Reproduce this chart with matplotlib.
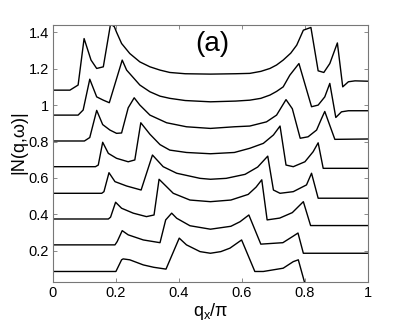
import matplotlib
matplotlib.use('Agg')
import matplotlib.pyplot as plt

plt.rcParams['font.family'] = ['Liberation Sans', 'DejaVu Sans']

# curves, bottom to top
curve1_x = [0, 0.2, 0.218, 0.223, 0.244, 0.287, 0.32, 0.359, 0.401, 0.424, 0.467, 0.5,
            0.533, 0.562, 0.599, 0.641, 0.668, 0.731, 0.763, 0.779, 0.8, 1.0]
curve1_y = [0.087, 0.087, 0.151, 0.156, 0.151, 0.123, 0.11, 0.100, 0.270, 0.233, 0.196, 0.187,
            0.196, 0.215, 0.260, 0.087, 0.087, 0.105, 0.141, 0.151, 0.02, 0.02]

curve2_x = [0, 0.197, 0.204, 0.22, 0.239, 0.287, 0.34, 0.358, 0.377, 0.393, 0.435, 0.5,
            0.565, 0.594, 0.622, 0.66, 0.73, 0.762, 0.778, 0.795, 1.0]
curve2_y = [0.233, 0.233, 0.251, 0.311, 0.288, 0.26, 0.245, 0.37, 0.407, 0.379, 0.338, 0.319,
            0.335, 0.36, 0.397, 0.237, 0.245, 0.28, 0.298, 0.187, 0.187]

curve3_x = [0, 0.176, 0.183, 0.199, 0.218, 0.255, 0.297, 0.321, 0.337, 0.361, 0.382, 0.435, 0.5,
            0.565, 0.62, 0.645, 0.663, 0.68, 0.72, 0.76, 0.795, 0.818, 1.0]
curve3_y = [0.375, 0.375, 0.385, 0.467, 0.434, 0.407, 0.388, 0.397, 0.593, 0.552, 0.516, 0.479, 0.47,
            0.479, 0.51, 0.55, 0.59, 0.37, 0.38, 0.41, 0.47, 0.339, 0.339]

curve4_x = [0, 0.155, 0.162, 0.178, 0.197, 0.234, 0.28, 0.316, 0.35, 0.393, 0.467, 0.5,
            0.55, 0.61, 0.65, 0.682, 0.70, 0.721, 0.763, 0.805, 0.821, 0.842, 1.0]
curve4_y = [0.516, 0.516, 0.525, 0.629, 0.58, 0.556, 0.534, 0.726, 0.662, 0.626, 0.598, 0.593,
            0.598, 0.62, 0.66, 0.72, 0.534, 0.516, 0.525, 0.562, 0.626, 0.489, 0.489]

curve5_x = [0, 0.135, 0.144, 0.158, 0.176, 0.202, 0.239, 0.26, 0.279, 0.308, 0.34, 0.371, 0.424, 0.5,
            0.576, 0.625, 0.668, 0.70, 0.721, 0.74, 0.763, 0.80, 0.826, 0.842, 0.858, 1.0]
curve5_y = [0.662, 0.662, 0.671, 0.796, 0.735, 0.708, 0.689, 0.699, 0.903, 0.84, 0.783, 0.753, 0.74, 0.733,
            0.74, 0.763, 0.79, 0.836, 0.885, 0.671, 0.662, 0.689, 0.744, 0.793, 0.653, 0.653]

curve6_x = [0, 0.10, 0.117, 0.139, 0.158, 0.181, 0.202, 0.218, 0.239, 0.258, 0.276, 0.308, 0.361, 0.424, 0.5,
            0.576, 0.625, 0.678, 0.71, 0.74, 0.76, 0.785, 0.81, 0.837, 0.853, 0.863, 0.895, 1.0]
curve6_y = [0.803, 0.803, 0.822, 0.971, 0.893, 0.863, 0.845, 0.847, 0.985, 1.04, 1.0, 0.945, 0.903, 0.881, 0.872,
            0.881, 0.885, 0.908, 0.945, 1.03, 0.98, 0.818, 0.826, 0.863, 0.927, 0.965, 0.812, 0.814]

curve7_x = [0, 0.080, 0.096, 0.117, 0.139, 0.160, 0.179, 0.220, 0.234, 0.276, 0.308, 0.34, 0.371, 0.42, 0.5,
            0.58, 0.625, 0.66, 0.689, 0.71, 0.731, 0.752, 0.781, 0.821, 0.842, 0.863, 0.879, 0.898, 0.916,
            0.938, 1.0]
curve7_y = [0.945, 0.945, 0.973, 1.142, 1.045, 1.027, 1.013, 1.247, 1.192, 1.11, 1.073, 1.049, 1.037, 1.025, 1.018,
            1.022, 1.027, 1.037, 1.055, 1.075, 1.10, 1.164, 1.228, 0.991, 1.0, 1.045, 1.119, 0.932, 0.963,
            0.969, 0.969]

curve8_x = [0, 0.054, 0.08, 0.099, 0.121, 0.139, 0.160, 0.183, 0.195, 0.202, 0.218, 0.244, 0.276, 0.308, 0.34,
            0.371, 0.42, 0.5, 0.58, 0.625, 0.66, 0.689, 0.71, 0.731, 0.755, 0.774, 0.795, 0.819, 0.842, 0.860,
            0.879, 0.903, 0.920, 0.938, 0.959, 1.0]
curve8_y = [1.082, 1.082, 1.11, 1.365, 1.247, 1.201, 1.21, 1.445, 1.43, 1.40, 1.338, 1.283, 1.237, 1.21, 1.192,
            1.179, 1.172, 1.17, 1.172, 1.174, 1.185, 1.201, 1.22, 1.247, 1.285, 1.329, 1.411, 1.426, 1.188, 1.179,
            1.228, 1.341, 1.10, 1.128, 1.133, 1.131]

curves = [(curve1_x, curve1_y), (curve2_x, curve2_y), (curve3_x, curve3_y), (curve4_x, curve4_y),
          (curve5_x, curve5_y), (curve6_x, curve6_y), (curve7_x, curve7_y), (curve8_x, curve8_y)]

xticks = [0, 0.2, 0.4, 0.6, 0.8, 1]
xticklabels = ['0', '0.2', '0.4', '0.6', '0.8', '1']
yticks = [0.2, 0.4, 0.6, 0.8, 1.0, 1.2, 1.4]
yticklabels = ['0.2', '0.4', '0.6', '0.8', '1', '1.2', '1.4']

fig = plt.figure(figsize=(4.07, 3.32), dpi=100)
ax = fig.add_axes([0.130, 0.151, 0.774, 0.774])

for cx, cy in curves:
    ax.plot(cx, cy, color='black', linewidth=1.0)

ax.set_xlim(0, 1)
ax.set_ylim(0.03, 1.44)
ax.set_xticks(xticks)
ax.set_xticklabels(xticklabels)
ax.set_yticks(yticks)
ax.set_yticklabels(yticklabels)
ax.tick_params(direction='in', length=3, width=0.6, colors='#777777', labelcolor='black',
               labelsize=10.5, top=True, right=True, pad=3)
for s in ax.spines.values():
    s.set_color('#777777')
    s.set_linewidth(0.8)

ax.set_xlabel('q$_\\mathregular{x}$/π', fontsize=13)
ax.xaxis.set_label_coords(0.5, -0.075)
ax.set_ylabel('|N(q,ω)|', fontsize=13)
ax.yaxis.set_label_coords(-0.08, 0.545)

ax.text(0.505, 1.334, '(a)', fontsize=20, ha='center', va='center')

fig.savefig('out.png', dpi=100)
